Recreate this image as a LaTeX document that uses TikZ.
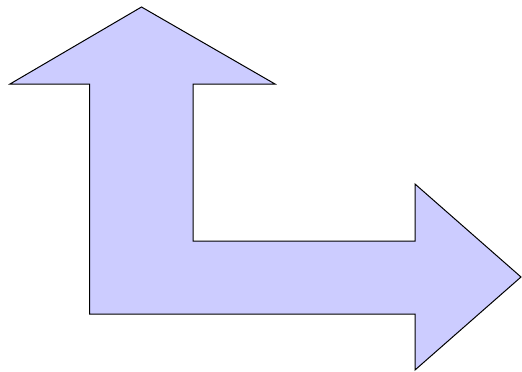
\documentclass[tikz,border=0pt]{standalone}
\usepackage{tikz}

\begin{document}
\begin{tikzpicture}[
    x=1pt, y=-1pt,
    arrowshape/.style={draw=black, line width=1pt, line join=miter, fill={rgb,255:red,204;green,204;blue,255}}
]
\useasboundingbox (0,0) rectangle (522,372);
\draw[arrowshape] (141.5,7) -- (275,84) -- (193,84) -- (193,241) -- (415,241)
    -- (415,184) -- (521,277) -- (415,370) -- (415,314) -- (89.5,314)
    -- (89.5,84) -- (10,84) -- cycle;
\end{tikzpicture}
\end{document}
